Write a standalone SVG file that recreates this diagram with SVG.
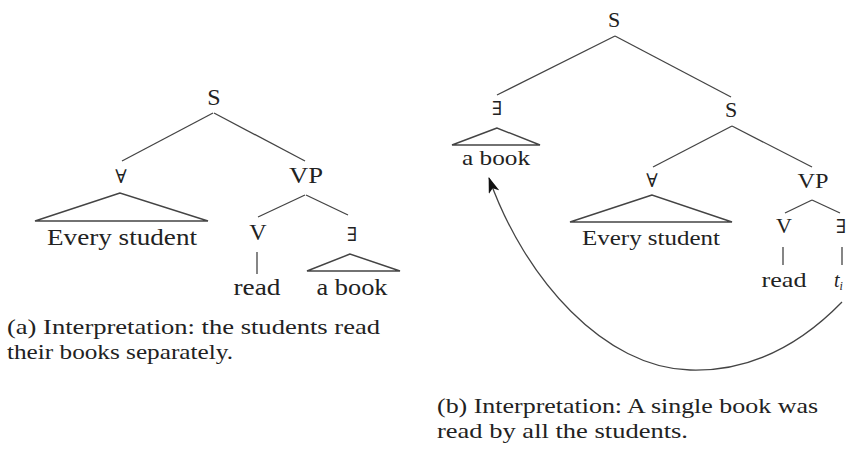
<svg xmlns="http://www.w3.org/2000/svg" width="852" height="453" viewBox="0 0 852 453">
<style>
  text { font-family: "Liberation Serif", "DejaVu Serif", serif; fill: #222; }
  .la { font-size: 24px; text-anchor: middle; }
  .lb { font-size: 22px; text-anchor: middle; }
  .sym { font-size: 19px; text-anchor: middle; }
  .cap { font-size: 21px; }
  .e { stroke: #444; stroke-width: 1.3; fill: none; }
  .tri { stroke: #444; stroke-width: 1.4; fill: none; stroke-linejoin: miter; }
</style>
<defs>
  <marker id="ah" viewBox="0 0 16 11" refX="15" refY="5.5" markerWidth="16" markerHeight="11" markerUnits="userSpaceOnUse" orient="auto">
    <path d="M0,0 L16,5.5 L0,11 L4,5.5 Z" fill="#111"/>
  </marker>
</defs>
<rect width="852" height="453" fill="#fff"/>

<!-- connectors -->
<g id="connectors">
  <line class="e" x1="213" y1="113" x2="122" y2="161"/>
  <line class="e" x1="214" y1="113" x2="305" y2="161"/>
  <line class="e" x1="305" y1="195" x2="258" y2="217"/>
  <line class="e" x1="306" y1="195" x2="348" y2="215"/>
  <line class="e" x1="257" y1="252" x2="257" y2="274"/>

  <line class="e" x1="615" y1="36" x2="497" y2="95"/>
  <line class="e" x1="615" y1="36" x2="731" y2="97"/>
  <line class="e" x1="732" y1="126" x2="653" y2="167"/>
  <line class="e" x1="732" y1="126" x2="812" y2="167"/>
  <line class="e" x1="812" y1="200" x2="785" y2="213"/>
  <line class="e" x1="812" y1="200" x2="840" y2="213"/>
  <line class="e" x1="783" y1="247" x2="783" y2="265"/>
  <line class="e" x1="842" y1="247" x2="842" y2="265"/>
  <path id="movement" class="e" stroke="#222" d="M842,302 C805,340 755,372 690,370 C605,368 525,280 489,178" marker-end="url(#ah)"/>
</g>

<!-- tree (a) -->
<g id="a-S"><text class="la" x="214" y="105">S</text></g>
<g id="a-forall"><text class="sym" x="121" y="183">∀</text></g>
<g id="a-VP"><text class="la" x="306" y="183" textLength="34" lengthAdjust="spacingAndGlyphs">VP</text></g>
<g id="a-every-student">
  <polygon class="tri" points="120,193 35,221 208,221"/>
  <text class="la" x="122" y="245" textLength="150" lengthAdjust="spacingAndGlyphs">Every student</text>
</g>
<g id="a-V"><text class="la" x="258" y="240">V</text></g>
<g id="a-exists"><text class="sym" x="352" y="241">∃</text></g>
<g id="a-read"><text class="la" x="257" y="295" textLength="47" lengthAdjust="spacingAndGlyphs">read</text></g>
<g id="a-a-book">
  <polygon class="tri" points="350,254 307,271 400,271"/>
  <text class="la" x="352" y="295" textLength="71" lengthAdjust="spacingAndGlyphs">a book</text>
</g>
<g id="caption-a">
  <text class="cap" x="7" y="334" textLength="373" lengthAdjust="spacingAndGlyphs">(a) Interpretation: the students read</text>
  <text class="cap" x="7" y="359" textLength="226" lengthAdjust="spacingAndGlyphs">their books separately.</text>
</g>

<!-- tree (b) -->
<g id="b-S-top"><text class="lb" x="614" y="27">S</text></g>
<g id="b-exists"><text class="sym" x="497" y="115">∃</text></g>
<g id="b-a-book">
  <polygon class="tri" points="497,128 452,145 540,145"/>
  <text class="lb" x="496" y="165" textLength="68" lengthAdjust="spacingAndGlyphs">a book</text>
</g>
<g id="b-S"><text class="lb" x="731" y="117">S</text></g>
<g id="b-forall"><text class="sym" x="652" y="187">∀</text></g>
<g id="b-VP"><text class="lb" x="813" y="188" textLength="31" lengthAdjust="spacingAndGlyphs">VP</text></g>
<g id="b-every-student">
  <polygon class="tri" points="652,195 570,222 732,222"/>
  <text class="lb" x="651" y="245" textLength="138" lengthAdjust="spacingAndGlyphs">Every student</text>
</g>
<g id="b-V"><text class="lb" x="784" y="233">V</text></g>
<g id="b-exists2"><text class="sym" x="841" y="233">∃</text></g>
<g id="b-read"><text class="lb" x="784" y="287" textLength="45" lengthAdjust="spacingAndGlyphs">read</text></g>
<g id="b-trace"><text x="834" y="287" font-size="20" font-style="italic">t<tspan font-size="12" dy="3">i</tspan></text></g>
<g id="caption-b">
  <text class="cap" x="437" y="413" textLength="381" lengthAdjust="spacingAndGlyphs">(b) Interpretation: A single book was</text>
  <text class="cap" x="437" y="438" textLength="251" lengthAdjust="spacingAndGlyphs">read by all the students.</text>
</g>
</svg>
